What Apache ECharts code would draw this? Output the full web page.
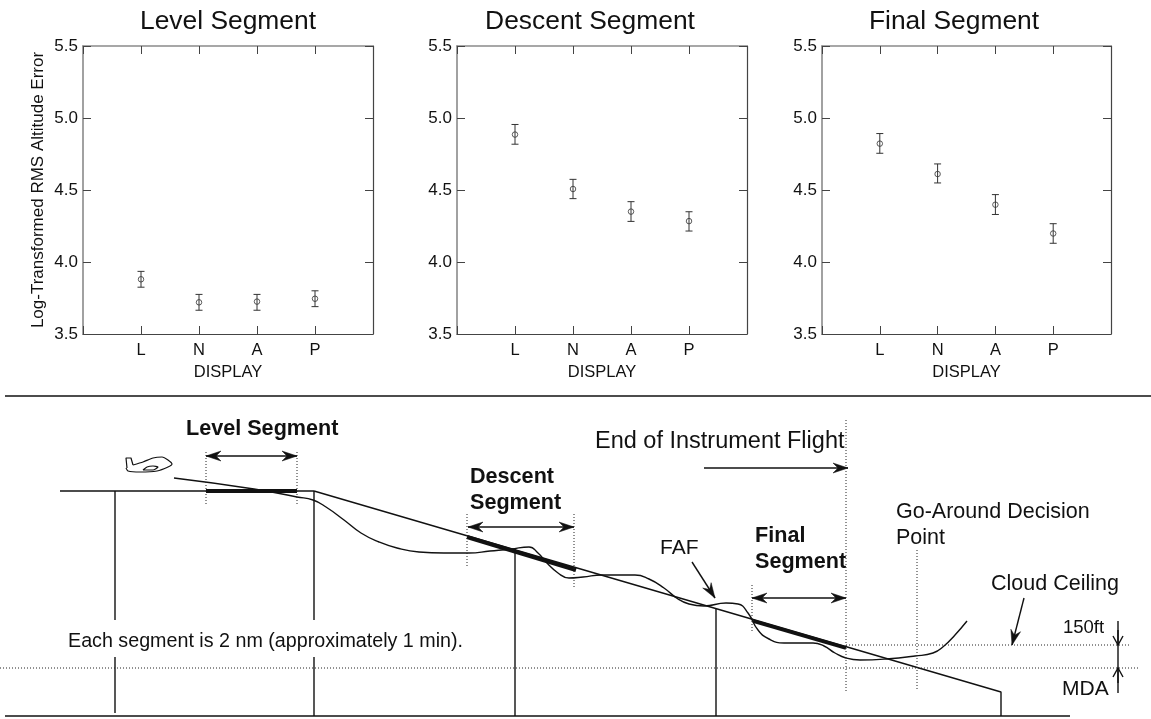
<!DOCTYPE html>
<html><head><meta charset="utf-8">
<style>html,body{margin:0;padding:0;background:#fff}#c{width:1151px;height:719px}</style>
<script src="https://cdn.jsdelivr.net/npm/echarts@6/dist/echarts.min.js"></script>
</head><body><div id="c"></div>
<script>
// Upper panels
const panelTitles = ['Level Segment', 'Descent Segment', 'Final Segment'];
const displayCategories = ['', 'L', 'N', 'A', 'P', ''];
const levelMean = [3.88, 3.72, 3.725, 3.745];
const levelHigh = [3.935, 3.775, 3.775, 3.80];
const levelLow = [3.825, 3.665, 3.665, 3.69];
const descentMean = [4.885, 4.507, 4.35, 4.284];
const descentHigh = [4.955, 4.574, 4.419, 4.349];
const descentLow = [4.818, 4.44, 4.282, 4.215];
const finalMean = [4.822, 4.611, 4.398, 4.198];
const finalHigh = [4.892, 4.681, 4.468, 4.266];
const finalLow = [4.755, 4.549, 4.33, 4.13];

// Lower diagram, in picture units
const separator = [[5, 396], [1151, 396]];
const ground = [[5, 716], [1070, 716]];
const levelTrack = [[60, 491], [314, 491]];
const glidePath = [[314, 491], [1001, 692], [1001, 716]];
const flightPath = [[174, 478], [254, 489], [297, 497], [313, 500], [326, 507], [344, 520], [361, 533], [379, 542], [397, 548], [419, 552], [444, 553], [469, 553], [490, 551], [511, 549], [529, 547], [538, 553], [547, 563], [558, 573], [569, 578], [583, 577], [602, 575], [635, 575], [649, 579], [664, 588], [678, 599], [689, 604], [704, 606], [726, 603], [738, 604], [748, 613], [758, 630], [769, 639], [784, 643], [813, 643], [824, 646], [835, 653], [846, 658], [860, 660], [886, 659], [915, 656], [933, 653], [944, 646], [955, 635], [967, 621]];
const supports = [
  [[115, 491], [115, 620]], [[115, 657], [115, 713]],
  [[314, 491], [314, 620]], [[314, 657], [314, 716]],
  [[515, 549], [515, 716]], [[716, 609], [716, 716]], [[1118, 621], [1118, 693]]
];
const thickSegments = [
  [[206, 491], [297, 491], 4],
  [[467, 537], [576, 570], 4],
  [[753, 621], [846, 648], 3.5]
];
const dottedLines = [
  [[206, 452], [206, 506]], [[297, 452], [297, 506]],
  [[467, 514], [467, 568]], [[574, 514], [574, 587]],
  [[752, 585], [752, 631]], [[846, 420], [846, 693]], [[917, 550], [917, 690]],
  [[846, 645], [1131, 645]], [[0, 668], [1140, 668]]
];
const doubleArrows = [[206, 456, 297, 456], [468, 527, 574, 527], [752, 598, 846, 598]];
const singleArrows = [[704, 468, 848, 468], [692, 562, 715, 598], [1024, 598, 1012, 645]];
const openArrows = [[1118, 630, 1118, 645], [1118, 683, 1118, 668]];
const planeTail = [[127, 468], [126, 458], [131, 458], [133, 465]];
const planeBody = [[133, 465], [143, 462], [153, 458], [162, 457], [168, 460], [172, 464], [168, 467], [157, 471], [140, 472], [128, 471], [126, 468]];
const planeWing = [[143, 470], [147, 467], [153, 466], [158, 467], [153, 470], [143, 470]];
const notes = [
  ['Level Segment', 186, 429, 21.6, 'bold'],
  ['Descent', 470, 477, 21.6, 'bold'],
  ['Segment', 470, 503, 21.6, 'bold'],
  ['Final', 755, 536, 21.6, 'bold'],
  ['Segment', 755, 562, 21.6, 'bold'],
  ['End of Instrument Flight', 595, 442, 23.5, 'normal'],
  ['FAF', 660, 548, 21, 'normal'],
  ['Go-Around Decision', 896, 512, 21.5, 'normal'],
  ['Point', 896, 538, 21.5, 'normal'],
  ['Cloud Ceiling', 991, 584, 21.5, 'normal'],
  ['150ft', 1063, 628, 18.5, 'normal'],
  ['MDA', 1062, 689, 21, 'normal'],
  ['Each segment is 2 nm (approximately 1 min).', 68, 642, 19.7, 'normal']
];

const FONT = '"Liberation Sans", Arial, sans-serif';
const INK = '#111';
const panels = [
  { left: 83, right: 373, mean: levelMean, hi: levelHigh, lo: levelLow, titleX: 228 },
  { left: 457, right: 747, mean: descentMean, hi: descentHigh, lo: descentLow, titleX: 590 },
  { left: 822, right: 1111, mean: finalMean, hi: finalHigh, lo: finalLow, titleX: 954 }
];
const grid = [], xAxis = [], yAxis = [], series = [], title = [];
const strong = { lineStyle: { color: '#444', width: 1.2 } };
const soft = { lineStyle: { color: '#8a8a8a', width: 1.6 } };

panels.forEach((p, i) => {
  grid.push({ left: p.left, width: p.right - p.left, top: 46, height: 288 });
  title.push({ text: panelTitles[i], left: p.titleX, top: 9, padding: 0, textAlign: 'center',
    textStyle: { fontFamily: FONT, fontSize: 26.4, fontWeight: 'normal', color: INK } });
  const tick = { show: true, inside: true, length: 8, alignWithLabel: true, lineStyle: { color: '#444', width: 1 } };
  xAxis.push({ type: 'category', gridIndex: i, data: displayCategories, boundaryGap: false, position: 'bottom',
    axisLine: { show: true, onZero: false, ...strong }, axisTick: tick,
    axisLabel: { color: INK, fontFamily: FONT, fontSize: 16.5, margin: 8, interval: 0, showMinLabel: true, showMaxLabel: true },
    name: 'DISPLAY', nameLocation: 'middle', nameGap: 30,
    nameTextStyle: { color: INK, fontFamily: FONT, fontSize: 16.5 }, splitLine: { show: false } });
  xAxis.push({ type: 'category', gridIndex: i, data: displayCategories, boundaryGap: false, position: 'top',
    axisLine: { show: true, onZero: false, ...soft }, axisTick: tick, axisLabel: { show: false }, splitLine: { show: false } });
  yAxis.push({ type: 'value', gridIndex: i, min: 3.5, max: 5.5, interval: 0.5, position: 'left',
    axisLine: { show: true, onZero: false, ...soft }, axisTick: tick,
    axisLabel: { color: INK, fontFamily: FONT, fontSize: 17, margin: 5, formatter: v => v.toFixed(1) },
    name: i === 0 ? 'Log-Transformed RMS Altitude Error' : '', nameLocation: 'middle', nameGap: 36,
    nameTextStyle: { color: INK, fontFamily: FONT, fontSize: 17 }, splitLine: { show: false } });
  yAxis.push({ type: 'value', gridIndex: i, min: 3.5, max: 5.5, interval: 0.5, position: 'right',
    axisLine: { show: true, onZero: false, ...strong }, axisTick: tick, axisLabel: { show: false }, splitLine: { show: false } });
  const xi = 2 * i, yi = 2 * i;
  series.push({
    type: 'custom', xAxisIndex: xi, yAxisIndex: yi, silent: true, animation: false,
    data: p.mean.map((m, k) => [k + 1, p.lo[k], p.hi[k]]),
    encode: { x: 0, y: [1, 2] },
    renderItem(params, api) {
      const a = api.coord([api.value(0), api.value(1)]), b = api.coord([api.value(0), api.value(2)]);
      const style = { stroke: '#333', lineWidth: 1, fill: null };
      return { type: 'group', children: [
        { type: 'line', shape: { x1: a[0], y1: a[1], x2: b[0], y2: b[1] }, style },
        { type: 'line', shape: { x1: a[0] - 3.5, y1: a[1], x2: a[0] + 3.5, y2: a[1] }, style },
        { type: 'line', shape: { x1: b[0] - 3.5, y1: b[1], x2: b[0] + 3.5, y2: b[1] }, style }
      ] };
    }
  });
  series.push({
    type: 'scatter', xAxisIndex: xi, yAxisIndex: yi, silent: true, animation: false,
    data: p.mean.map((m, k) => [k + 1, m]), symbol: 'circle', symbolSize: 5.5,
    itemStyle: { color: 'rgba(0,0,0,0)', borderColor: '#333', borderWidth: 1 }
  });
});

// Hidden picture-unit axes for the diagram
grid.push({ left: 0, right: 0, top: 0, bottom: 0 });
const DX = xAxis.length, DY = yAxis.length;
xAxis.push({ type: 'value', gridIndex: 3, min: 0, max: 1151, show: false });
yAxis.push({ type: 'value', gridIndex: 3, min: 0, max: 719, inverse: true, show: false });

function poly(data, width, opts) {
  series.push(Object.assign({
    type: 'line', xAxisIndex: DX, yAxisIndex: DY, data, showSymbol: false, silent: true, animation: false, clip: false,
    lineStyle: { color: INK, width, cap: 'butt' }
  }, opts || {}));
}
poly(separator, 1.6);
poly(ground, 1.6);
poly(levelTrack, 1.4);
poly(glidePath, 1.4);
poly(flightPath, 1.4, { smooth: 0.5 });
supports.forEach(s => poly(s, 1.4));
thickSegments.forEach(s => poly(s.slice(0, 2), s[2]));
dottedLines.forEach(s => poly(s, 1, { lineStyle: { color: '#222', width: 1, type: [1, 2] } }));
poly(planeTail, 1.2);
poly(planeBody, 1.2, { smooth: 0.2 });
poly(planeWing, 1.2, { smooth: 0.2 });

function headPts(tx, ty, ux, uy, L, W, notch) {
  const px = -uy, py = ux;
  return [[tx, ty],
    [tx - ux * L + px * W, ty - uy * L + py * W],
    [tx - ux * notch, ty - uy * notch],
    [tx - ux * L - px * W, ty - uy * L - py * W]];
}
function arrowSeries(data, both, open) {
  series.push({
    type: 'custom', xAxisIndex: DX, yAxisIndex: DY, silent: true, animation: false, clip: false, data,
    encode: { x: [0, 2], y: [1, 3] },
    renderItem(params, api) {
      const a = api.coord([api.value(0), api.value(1)]), b = api.coord([api.value(2), api.value(3)]);
      const d = Math.hypot(b[0] - a[0], b[1] - a[1]), ux = (b[0] - a[0]) / d, uy = (b[1] - a[1]) / d;
      const line = { stroke: INK, lineWidth: 1.4, fill: null };
      const kids = [{ type: 'line', shape: { x1: a[0], y1: a[1], x2: b[0], y2: b[1] }, style: line }];
      const head = (t, x, y) => {
        if (open) {
          const p = headPts(t[0], t[1], x, y, 9, 5, 0);
          kids.push({ type: 'polyline', shape: { points: [p[1], p[0], p[3]] }, style: line });
        } else {
          kids.push({ type: 'polygon', shape: { points: headPts(t[0], t[1], x, y, 15, 5, 10) }, style: { fill: INK, stroke: INK, lineWidth: 0.5 } });
        }
      };
      head(b, ux, uy);
      if (both) head(a, -ux, -uy);
      return { type: 'group', children: kids };
    }
  });
}
arrowSeries(doubleArrows, true, false);
arrowSeries(singleArrows, false, false);
arrowSeries(openArrows, false, true);

series.push({
  type: 'custom', xAxisIndex: DX, yAxisIndex: DY, silent: true, animation: false, clip: false,
  data: notes.map(n => [n[1], n[2]]),
  encode: { x: 0, y: 1 },
  renderItem(params, api) {
    const c = api.coord([api.value(0), api.value(1)]);
    const n = notes[params.dataIndex];
    return { type: 'text', style: { x: c[0], y: c[1], text: n[0], fill: INK, font: `${n[4]} ${n[3]}px ${FONT}`, textAlign: 'left', textVerticalAlign: 'middle', verticalAlign: 'middle' } };
  }
});

const chart = echarts.init(document.getElementById('c'), null, { renderer: 'canvas' });
chart.setOption({ animation: false, backgroundColor: '#fff', title, grid, xAxis, yAxis, series, tooltip: { show: false }, legend: { show: false } });
</script></body></html>
